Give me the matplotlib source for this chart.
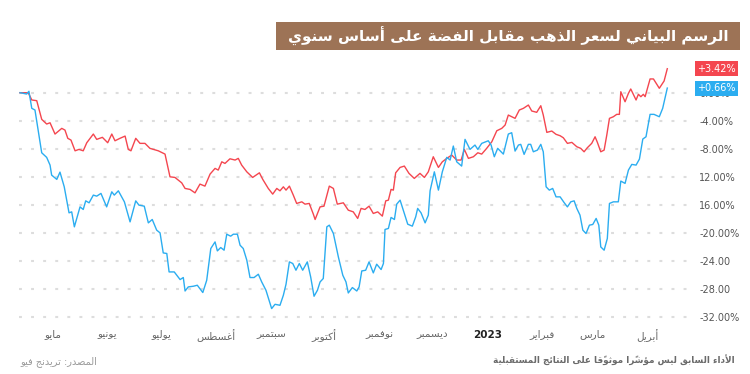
import numpy as np
import matplotlib
matplotlib.use("Agg")
import matplotlib.pyplot as plt
from matplotlib.patches import Rectangle
from matplotlib.transforms import blended_transform_factory

start_date = np.datetime64("2022-04-12")

# days since start_date, percent change
red_days = [0.6, 5.2, 7.2, 10.0, 12.8, 15.6, 17.5, 20.3, 24.1, 25.9,
            27.5, 29.3, 31.6, 33.8, 36.2, 38.2, 41.9, 43.8, 47.0, 50.0,
            52.3, 54.1, 56.9, 59.8, 61.6, 63.1, 65.8, 68.2, 71.0, 73.8,
            78.5, 82.3, 85.1, 87.9, 91.7, 93.6, 96.4, 99.2, 102.0, 104.8,
            107.7, 110.5, 112.3, 114.3, 116.1, 118.9, 121.8, 123.6, 125.5, 128.4,
            131.7, 135.5, 137.4, 140.5, 143.0, 145.3, 147.1, 149.0, 150.5, 152.4,
            154.6, 156.5, 159.4, 161.2, 163.6, 165.9, 166.9, 169.7, 171.9, 174.9,
            177.2, 179.4, 182.8, 185.6, 188.4, 190.9, 192.8, 195.0, 197.3, 199.7,
            202.2, 204.8, 206.7, 208.2, 209.7, 211.0, 212.3, 214.8, 217.2, 219.8,
            222.8, 226.0, 228.5, 230.7, 233.5, 236.4, 238.6, 241.1, 243.9, 246.7,
            249.2, 251.0, 253.3, 256.1, 258.6, 260.8, 263.6, 266.5, 269.3, 272.1,
            274.0, 275.8, 277.7, 279.6, 282.0, 284.3, 287.1, 289.0, 291.8, 294.1,
            295.5, 297.5, 300.3, 302.7, 305.0, 306.8, 309.1, 311.6, 314.4, 316.6,
            318.5, 320.3, 322.8, 324.7, 326.0, 327.9, 329.8, 331.3, 332.8, 335.0,
            336.9, 338.4, 339.2, 341.6, 343.5, 344.8, 347.8, 349.1, 350.5, 351.9,
            352.9, 355.7, 357.6, 360.9, 363.6, 365.4]
red_values = [0.0, 0.0, -1.04, -1.14, -3.8, -4.47, -4.29, -5.9, -5.09, -5.33,
              -6.51, -6.76, -8.29, -8.09, -8.29, -7.14, -5.9, -6.66, -6.37, -7.14,
              -5.9, -6.86, -6.51, -6.19, -8.09, -8.29, -6.51, -7.23, -7.23, -7.94,
              -8.29, -8.76, -12.0, -12.09, -12.86, -13.66, -13.8, -14.29, -13.04, -13.33,
              -11.61, -10.8, -11.04, -9.86, -10.09, -9.43, -9.61, -9.37, -10.33, -11.29,
              -12.09, -11.43, -12.37, -13.66, -14.47, -13.66, -14.0, -13.43, -13.9, -13.33,
              -14.61, -15.8, -15.57, -15.9, -15.8, -17.33, -18.09, -16.29, -16.19, -13.33,
              -13.66, -15.9, -15.71, -16.76, -17.0, -17.94, -16.51, -16.66, -16.19, -17.23,
              -17.0, -17.61, -15.43, -15.33, -13.8, -13.9, -11.43, -10.66, -10.47, -11.51,
              -12.23, -11.51, -12.09, -11.29, -9.14, -10.66, -9.86, -9.37, -8.9, -9.61,
              -9.61, -8.09, -9.37, -9.14, -8.57, -8.76, -7.94, -7.0, -5.43, -5.09,
              -4.61, -3.19, -3.43, -3.66, -2.47, -2.23, -1.76, -2.61, -2.8, -1.86,
              -3.19, -5.66, -5.47, -5.94, -6.14, -6.43, -7.23, -7.09, -7.71, -7.94,
              -8.43, -7.86, -7.23, -6.29, -7.09, -8.43, -8.19, -6.04, -3.66, -3.43,
              -3.09, -3.09, 0.14, -1.29, -0.09, 0.53, -1.04, -0.23, -0.57, -0.23,
              -0.57, 1.96, 1.96, 0.63, 1.67, 3.42]

blue_days = [0.6, 4.3, 5.6, 7.2, 9.0, 12.8, 15.6, 17.5, 18.4, 21.3,
             23.1, 25.5, 28.2, 29.7, 31.2, 34.4, 36.2, 37.6, 39.5, 41.9,
             43.8, 46.2, 49.4, 52.3, 53.7, 56.0, 59.4, 62.6, 65.8, 67.6,
             70.6, 72.9, 75.1, 77.6, 79.5, 81.3, 83.3, 84.6, 87.5, 90.8,
             92.6, 93.6, 95.4, 98.3, 100.5, 103.6, 105.8, 108.1, 110.5, 111.8,
             113.7, 115.6, 117.1, 119.3, 120.8, 123.1, 124.6, 126.4, 128.4, 130.2,
             132.5, 134.9, 136.8, 139.2, 142.4, 144.3, 147.1, 149.0, 150.5, 152.4,
             154.3, 156.1, 158.0, 159.9, 162.5, 164.4, 166.3, 168.2, 169.7, 171.5,
             173.5, 174.9, 177.2, 180.0, 182.5, 184.3, 185.6, 187.9, 190.4, 191.7,
             193.2, 195.4, 197.3, 199.7, 201.6, 204.1, 205.4, 206.3, 208.2, 209.7,
             211.6, 212.9, 214.8, 216.6, 219.1, 221.7, 223.6, 224.7, 226.6, 228.9,
             230.7, 231.7, 234.1, 236.4, 238.6, 241.1, 243.0, 244.8, 246.7, 249.5,
             251.4, 254.2, 257.0, 258.6, 260.8, 264.5, 266.1, 267.9, 269.8, 273.0,
             275.8, 277.7, 279.6, 281.5, 282.8, 284.7, 287.1, 288.4, 289.9, 292.2,
             294.1, 295.5, 297.1, 298.9, 300.8, 302.7, 305.0, 307.2, 309.1, 311.0,
             312.9, 314.4, 316.2, 317.8, 319.6, 321.5, 323.4, 325.3, 326.8, 327.9,
             329.8, 331.6, 332.8, 335.0, 337.8, 339.2, 341.6, 343.5, 345.4, 347.8,
             349.7, 351.6, 353.4, 355.7, 357.9, 360.9, 362.8, 365.4]
blue_values = [0.0, -0.19, 0.2, -2.23, -2.47, -8.57, -9.23, -10.33, -11.76, -12.37,
               -11.33, -13.43, -17.14, -17.0, -19.14, -16.29, -16.66, -15.43, -15.71, -14.61,
               -14.76, -14.37, -16.29, -14.14, -14.61, -14.0, -15.57, -18.43, -15.43, -16.04,
               -16.19, -18.57, -18.09, -19.61, -20.0, -22.86, -22.94, -25.57, -25.57, -26.66,
               -26.37, -28.29, -27.71, -27.61, -27.47, -28.51, -26.76, -22.23, -21.29, -22.57,
               -22.09, -22.47, -20.19, -20.47, -20.19, -20.19, -21.76, -22.23, -23.9, -26.37,
               -26.37, -25.9, -27.0, -28.19, -30.8, -30.19, -30.33, -28.9, -27.33, -24.14,
               -24.37, -25.33, -24.37, -25.33, -24.14, -26.29, -29.04, -28.19, -27.0, -26.51,
               -19.14, -18.9, -20.09, -23.43, -26.04, -27.0, -28.57, -27.8, -28.29, -27.71,
               -25.43, -25.33, -24.14, -25.71, -24.47, -25.23, -24.37, -19.51, -19.37, -17.8,
               -18.09, -15.9, -15.33, -16.76, -18.76, -19.04, -17.71, -16.51, -17.14, -18.57,
               -17.47, -14.0, -11.29, -13.9, -11.29, -9.23, -9.61, -7.61, -9.86, -10.47,
               -6.66, -8.09, -7.47, -8.09, -7.23, -6.86, -7.47, -9.14, -7.94, -8.76,
               -5.9, -5.71, -8.33, -7.47, -7.37, -8.8, -7.37, -7.37, -8.43, -8.19,
               -7.37, -8.43, -13.43, -13.9, -13.66, -14.86, -14.86, -15.66, -16.29, -15.57,
               -15.43, -16.51, -17.47, -19.61, -20.09, -18.9, -18.8, -17.94, -18.9, -22.0,
               -22.47, -20.8, -15.8, -15.57, -15.57, -12.61, -12.94, -11.04, -10.23, -10.33,
               -9.47, -6.61, -6.29, -3.09, -3.09, -3.43, -2.23, 0.66]

month_labels = ["مايو", "يونيو", "يوليو", "أغسطس", "سبتمبر", "أكتوبر",
                "نوفمبر", "ديسمبر", "2023", "فبراير", "مارس", "أبريل"]
month_starts = ["2022-05-01", "2022-06-01", "2022-07-01", "2022-08-01",
                "2022-09-01", "2022-10-01", "2022-11-01", "2022-12-01",
                "2023-01-01", "2023-02-01", "2023-03-01", "2023-04-01"]

y_ticks = [0, -4, -8, -12, -16, -20, -24, -28, -32]
y_tick_labels = ["0.00%", "-4.00%", "-8.00%", "12.00%", "16.00%",
                 "-20.00%", "-24.00", "-28.00", "-32.00%"]

title = "الرسم البياني لسعر الذهب مقابل الفضة على أساس سنوي"
source_note = "المصدر: تريدنج فيو"
disclaimer = "الأداء السابق ليس مؤشرًا موثوقًا على النتائج المستقبلية"

RED = "#f4464f"
BLUE = "#2badf0"

# matplotlib does no arabic shaping, so pick presentation forms by hand
_letters = "ءآأؤإئابةتثجحخدذرزسشصضطظعغفقكلمنهوىي"
_n_forms = [1, 2, 2, 2, 2, 4, 2, 4, 2, 4, 4, 4, 4, 4, 2, 2, 2, 2, 4, 4,
            4, 4, 4, 4, 4, 4, 4, 4, 4, 4, 4, 4, 4, 2, 2, 4]
FORMS = {}
_code = 0xFE80
for _ch, _n in zip(_letters, _n_forms):
    FORMS[_ch] = [_code + k for k in range(_n)]
    _code += _n
LAM_ALEF = {"آ": 0xFEF5, "أ": 0xFEF7, "إ": 0xFEF9, "ا": 0xFEFB}


def join_type(base):
    if len(base) == 2:
        return "R"
    return {4: "D", 2: "R"}.get(len(FORMS.get(base, [])), "U")


def rtl(text):
    clusters = []
    for ch in text:
        if 0x064B <= ord(ch) <= 0x0652 and clusters:
            clusters[-1][1] += ch
        elif clusters and clusters[-1] == ["ل", ""] and ch in LAM_ALEF:
            clusters[-1][0] += ch
        else:
            clusters.append([ch, ""])
    out = []
    for i, (base, marks) in enumerate(clusters):
        jt = join_type(base)
        prev = i > 0 and join_type(clusters[i - 1][0]) == "D" and jt in ("D", "R")
        nxt = i + 1 < len(clusters) and jt == "D" and join_type(clusters[i + 1][0]) in ("D", "R")
        if len(base) == 2:
            glyph = chr(LAM_ALEF[base[1]] + (1 if prev else 0))
        elif base in FORMS:
            forms = FORMS[base]
            if len(forms) == 4:
                idx = 3 if (prev and nxt) else 1 if prev else 2 if nxt else 0
            elif len(forms) == 2:
                idx = 1 if prev else 0
            else:
                idx = 0
            glyph = chr(forms[idx])
        else:
            glyph = base
        out.append(glyph + marks)
    return "".join(reversed(out))


def fit_width(txt, width_px):
    renderer = txt.figure.canvas.get_renderer()
    w = txt.get_window_extent(renderer).width
    txt.set_fontsize(txt.get_fontsize() * width_px / w)


plt.rcParams["font.family"] = ["DejaVu Sans"]

fig = plt.figure(figsize=(7.5, 3.74), dpi=100)
ax = fig.add_axes([19 / 750, 1 - 324 / 374, 671 / 750, 266 / 374])

ax.plot(red_days, red_values, color=RED, lw=1.0)
ax.plot(blue_days, blue_values, color=BLUE, lw=1.0)

ax.set_xlim(0, 378.2)
ax.set_ylim(-33.0, 4.95)
for spine in ax.spines.values():
    spine.set_visible(False)

ax.yaxis.tick_right()
ax.set_yticks(y_ticks)
ax.set_yticklabels(y_tick_labels)
ax.tick_params(axis="y", length=0, pad=6.5, labelsize=7, labelcolor="#555555")

tick_days = (np.array(month_starts, dtype="datetime64[D]") - start_date).astype(int)
ax.set_xticks(tick_days)
ax.set_xticklabels([s if s.isdigit() else rtl(s) for s in month_labels])
ax.tick_params(axis="x", length=0, pad=4, labelsize=7.5, labelcolor="#666666")
for lbl in ax.get_xticklabels():
    if lbl.get_text().isdigit():
        lbl.set_fontweight("bold")
        lbl.set_color("#222222")

ax.grid(axis="y", color="#dddddd", linestyle=(0, (1.4, 4.4)), linewidth=1.5)
ax.set_axisbelow(True)

# last value tags on the price scale
trans = blended_transform_factory(ax.transAxes, ax.transData)
for values, color in [(red_values, RED), (blue_values, BLUE)]:
    last = values[-1]
    ax.text(1.0104, last, f"{last:+.2f}%", transform=trans, ha="left", va="center",
            fontsize=7, color="white", clip_on=False, zorder=5,
            bbox=dict(boxstyle="square,pad=0.25", fc=color, ec="none"))

fig.add_artist(Rectangle((276 / 750, 1 - 50 / 374), 464 / 750, 28 / 374,
                         transform=fig.transFigure, fc="#9d7356", ec="none"))
title_txt = fig.text(508 / 750, 1 - 36 / 374, rtl(title), ha="center", va="center",
                     color="white", fontsize=12, fontweight="bold")
fit_width(title_txt, 442)

fig.text(20 / 750, 1 - 362 / 374, rtl(source_note), ha="left", va="center",
         fontsize=7, color="#9a9a9a")
note_txt = fig.text(735 / 750, 1 - 360 / 374, rtl(disclaimer), ha="right", va="center",
                    fontsize=7, color="#6a6a6a", fontweight="bold")
fit_width(note_txt, 243)

fig.savefig("out.png", dpi=100)
